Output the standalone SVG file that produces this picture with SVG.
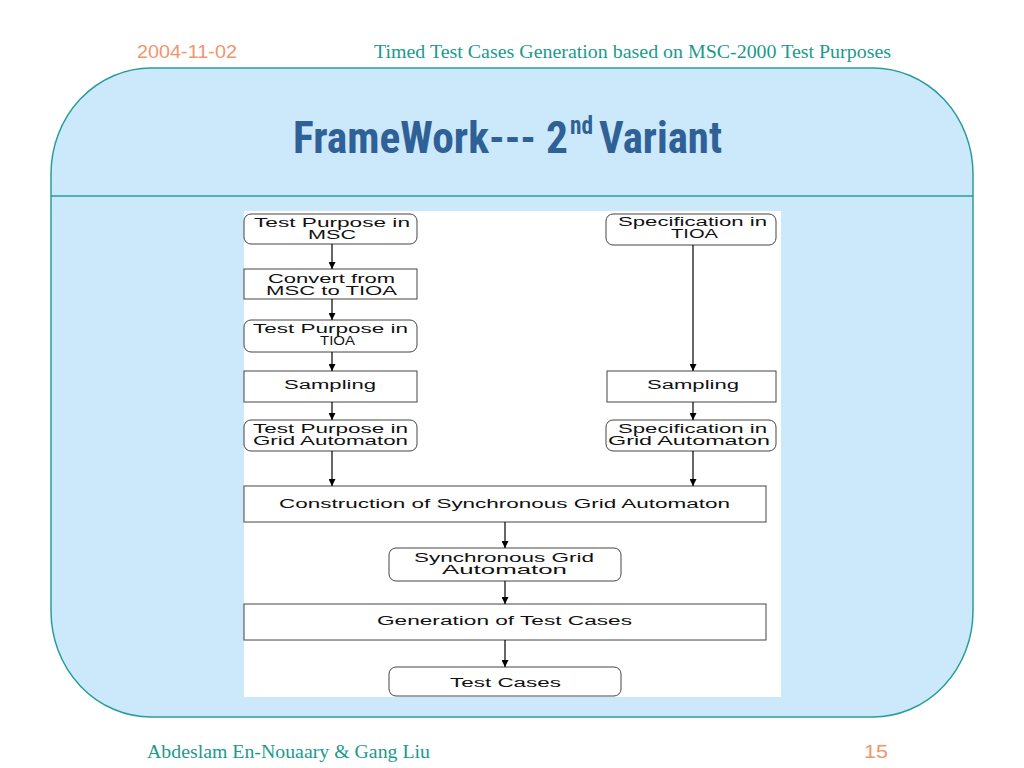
<svg xmlns="http://www.w3.org/2000/svg" width="1024" height="768" viewBox="0 0 1024 768">
  <defs>
    <marker id="arrow" markerUnits="userSpaceOnUse" markerWidth="8" markerHeight="7" refX="7" refY="3.5" orient="auto">
      <path d="M0,0 L7,3.5 L0,7 z" fill="#000"/>
    </marker>
  </defs>
  <style>
    .hdr-date { font-family: "Liberation Sans", Arial, sans-serif; font-size: 18px; fill: #f2956c; }
    .hdr-title { font-family: "Liberation Serif", "Times New Roman", serif; font-size: 19px; fill: #1b9a8c; }
    .title { font-family: "Liberation Sans Narrow", "Roboto Condensed", "Liberation Sans", Arial, sans-serif; font-weight: bold; fill: #2f6096; }
    .box { fill: #fff; stroke: #444; stroke-width: 1; }
    .lbl { font-family: "Liberation Sans", Arial, sans-serif; font-size: 12.5px; fill: #111; }
    .conn { stroke: #000; stroke-width: 1.2; fill: none; marker-end: url(#arrow); }
  </style>

  <rect width="1024" height="768" fill="#fff"/>

  <!-- header -->
  <text class="hdr-date" x="137" y="58" textLength="100" lengthAdjust="spacingAndGlyphs">2004-11-02</text>
  <text class="hdr-title" x="374" y="58" textLength="517" lengthAdjust="spacingAndGlyphs">Timed Test Cases Generation based on MSC-2000 Test Purposes</text>

  <!-- panel -->
  <rect x="51" y="68" width="922" height="649" rx="100" ry="106" fill="#cce9fb" stroke="#2a9d9a" stroke-width="1.5"/>
  <line x1="51" y1="196" x2="973" y2="196" stroke="#2a9d9a" stroke-width="1.5"/>

  <!-- title -->
  <text class="title" x="293" y="153" font-size="44" textLength="275" lengthAdjust="spacingAndGlyphs">FrameWork--- 2</text>
  <text class="title" x="570" y="134" font-size="26" textLength="23" lengthAdjust="spacingAndGlyphs">nd</text>
  <text class="title" x="599" y="153" font-size="44" textLength="123" lengthAdjust="spacingAndGlyphs">Variant</text>

  <!-- diagram background -->
  <rect x="244" y="211" width="537" height="486" fill="#fff"/>

  <!-- nodes -->
  <g id="tp_msc">
    <rect class="box" x="244" y="214" width="173" height="30" rx="7"/>
    <text class="lbl" x="254" y="227" textLength="156" lengthAdjust="spacingAndGlyphs">Test Purpose in</text>
    <text class="lbl" x="308" y="239" textLength="48" lengthAdjust="spacingAndGlyphs">MSC</text>
  </g>
  <g id="convert">
    <rect class="box" x="244" y="269" width="173" height="30"/>
    <text class="lbl" x="268" y="283" textLength="127" lengthAdjust="spacingAndGlyphs">Convert from</text>
    <text class="lbl" x="266" y="295" textLength="131" lengthAdjust="spacingAndGlyphs">MSC to TIOA</text>
  </g>
  <g id="tp_tioa">
    <rect class="box" x="244" y="320" width="173" height="32" rx="7"/>
    <text class="lbl" x="253" y="333" textLength="155" lengthAdjust="spacingAndGlyphs">Test Purpose in</text>
    <text class="lbl" x="320" y="345" textLength="35" lengthAdjust="spacingAndGlyphs">TIOA</text>
  </g>
  <g id="sampling_left">
    <rect class="box" x="244" y="371" width="173" height="31"/>
    <text class="lbl" x="284" y="389" textLength="92" lengthAdjust="spacingAndGlyphs">Sampling</text>
  </g>
  <g id="tp_grid">
    <rect class="box" x="244" y="420" width="173" height="31" rx="7"/>
    <text class="lbl" x="253" y="433" textLength="155" lengthAdjust="spacingAndGlyphs">Test Purpose in</text>
    <text class="lbl" x="253" y="445" textLength="155" lengthAdjust="spacingAndGlyphs">Grid Automaton</text>
  </g>
  <g id="spec_tioa">
    <rect class="box" x="606" y="214" width="170" height="31" rx="7"/>
    <text class="lbl" x="618" y="226" textLength="149" lengthAdjust="spacingAndGlyphs">Specification in</text>
    <text class="lbl" x="671" y="238" textLength="47" lengthAdjust="spacingAndGlyphs">TIOA</text>
  </g>
  <g id="sampling_right">
    <rect class="box" x="607" y="371" width="169" height="31"/>
    <text class="lbl" x="647" y="389" textLength="92" lengthAdjust="spacingAndGlyphs">Sampling</text>
  </g>
  <g id="spec_grid">
    <rect class="box" x="606" y="420" width="170" height="31" rx="7"/>
    <text class="lbl" x="618" y="433" textLength="149" lengthAdjust="spacingAndGlyphs">Specification in</text>
    <text class="lbl" x="608" y="445" textLength="162" lengthAdjust="spacingAndGlyphs">Grid Automaton</text>
  </g>
  <g id="construction">
    <rect class="box" x="244" y="486" width="522" height="36"/>
    <text class="lbl" x="279" y="508" textLength="451" lengthAdjust="spacingAndGlyphs">Construction of Synchronous Grid Automaton</text>
  </g>
  <g id="sync_grid">
    <rect class="box" x="389" y="548" width="232" height="33" rx="7"/>
    <text class="lbl" x="414" y="562" textLength="180" lengthAdjust="spacingAndGlyphs">Synchronous Grid</text>
    <text class="lbl" x="442" y="574" textLength="125" lengthAdjust="spacingAndGlyphs">Automaton</text>
  </g>
  <g id="generation">
    <rect class="box" x="244" y="604" width="522" height="36"/>
    <text class="lbl" x="377" y="625" textLength="255" lengthAdjust="spacingAndGlyphs">Generation of Test Cases</text>
  </g>
  <g id="test_cases">
    <rect class="box" x="389" y="667" width="232" height="29" rx="7"/>
    <text class="lbl" x="450" y="687" textLength="111" lengthAdjust="spacingAndGlyphs">Test Cases</text>
  </g>

  <!-- connectors -->
  <g id="connectors">
    <line class="conn" x1="332" y1="244" x2="332" y2="269"/>
    <line class="conn" x1="332" y1="299" x2="332" y2="320"/>
    <line class="conn" x1="332" y1="352" x2="332" y2="371"/>
    <line class="conn" x1="332" y1="402" x2="332" y2="420"/>
    <line class="conn" x1="332" y1="451" x2="332" y2="486"/>
    <line class="conn" x1="693" y1="245" x2="693" y2="371"/>
    <line class="conn" x1="693" y1="402" x2="693" y2="420"/>
    <line class="conn" x1="693" y1="451" x2="693" y2="486"/>
    <line class="conn" x1="505" y1="522" x2="505" y2="548"/>
    <line class="conn" x1="505" y1="581" x2="505" y2="604"/>
    <line class="conn" x1="505" y1="640" x2="505" y2="667"/>
  </g>

  <!-- footer -->
  <text class="hdr-title" x="147" y="758" textLength="283" lengthAdjust="spacingAndGlyphs">Abdeslam En-Nouaary &amp; Gang Liu</text>
  <text class="hdr-date" x="864" y="758" textLength="24" lengthAdjust="spacingAndGlyphs">15</text>
</svg>
